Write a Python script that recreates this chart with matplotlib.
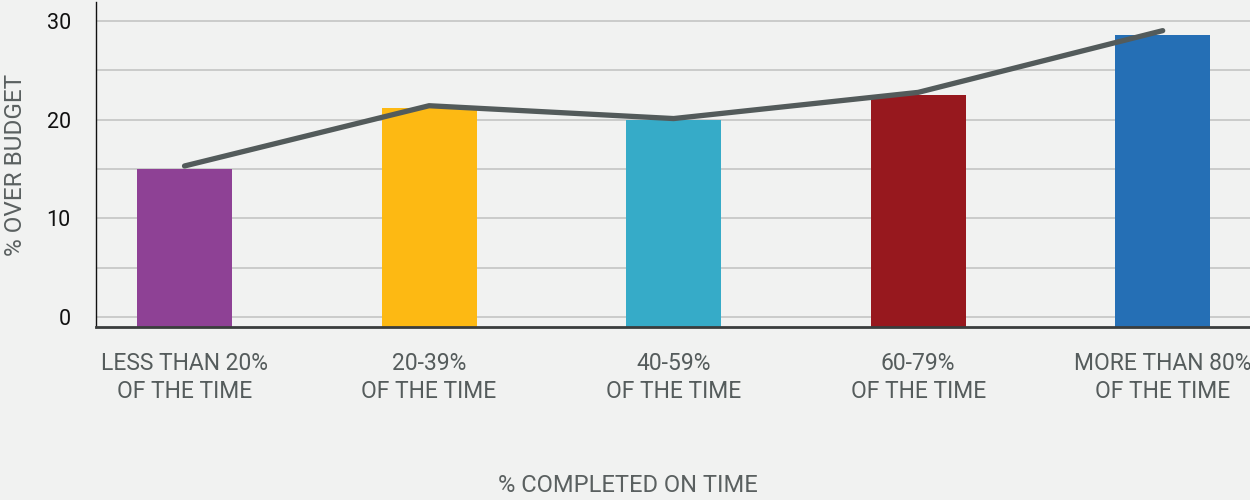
import matplotlib
matplotlib.use("Agg")
import matplotlib.pyplot as plt
import numpy as np

# Data
categories = ["LESS THAN 20%\nOF THE TIME", "20-39%\nOF THE TIME", "40-59%\nOF THE TIME",
              "60-79%\nOF THE TIME", "MORE THAN 80%\nOF THE TIME"]
bar_values = [15.0, 21.2, 20.0, 22.5, 28.6]
line_values = [15.3, 21.4, 20.1, 22.75, 29.0]
bar_colors = ["#8e4195", "#fdb913", "#36abc8", "#97181e", "#256fb5"]
y_major = [0, 10, 20, 30]
y_minor = [5, 15, 25]

bg = "#f1f2f1"
plt.rcParams["font.family"] = ["Roboto", "DejaVu Sans"]

fig = plt.figure(figsize=(12.5, 5), dpi=100, facecolor=bg)
ax = fig.add_axes([0.0766, 0.3466, 0.9234, 0.6494], facecolor=bg)

y_bottom, y_top = -0.97, 31.9
x = np.arange(len(categories))
heights = np.array(bar_values) - y_bottom
ax.bar(x, heights, bottom=y_bottom, width=0.388, color=bar_colors, zorder=2)
ax.plot(x, line_values, color="#535b5b", lw=3.8, solid_capstyle="round",
        solid_joinstyle="round", zorder=3)

ax.set_xlim(-0.363, 4.357)
ax.set_ylim(y_bottom, y_top)

ax.set_yticks(y_major)
ax.set_yticks(y_minor, minor=True)
ax.grid(axis="y", which="both", color="#c8c9c8", lw=1.3, zorder=0)
ax.tick_params(axis="y", which="both", length=0, pad=18, labelsize=15.5, labelcolor="#111111")

ax.set_xticks(x)
ax.set_xticklabels(categories, fontsize=16.5, color="#555c5c", linespacing=1.3)
ax.tick_params(axis="x", length=0, pad=18)

for s in ["top", "right"]:
    ax.spines[s].set_visible(False)
ax.spines["left"].set_color("#111111")
ax.spines["left"].set_linewidth(1.0)
ax.spines["bottom"].set_color("#3a3d3d")
ax.spines["bottom"].set_linewidth(2.0)
ax.spines["bottom"].set_zorder(4)

fig.text(0.0125, 0.67, "% OVER BUDGET", rotation=90, ha="center", va="center",
         fontsize=17.5, color="#5a6060")
fig.text(0.5025, 0.028, "% COMPLETED ON TIME", ha="center", va="center",
         fontsize=17, color="#5a6060")

fig.savefig("out.png", dpi=100, facecolor=bg)
